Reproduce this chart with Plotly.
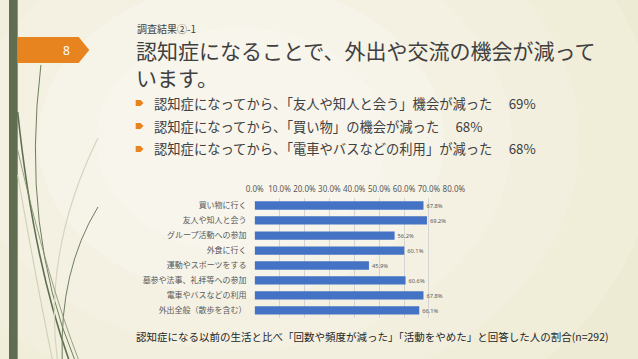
import plotly.graph_objects as go

W, H = 638, 359

categories = ["買い物に行く", "友人や知人と会う", "グループ活動への参加", "外食に行く",
              "運動やスポーツをする", "墓参や法事、礼拝等への参加", "電車やバスなどの利用",
              "外出全般（散歩を含む）"]
values = [67.8, 69.2, 56.2, 60.1, 45.9, 60.6, 67.8, 66.1]
x_ticks = [0, 10, 20, 30, 40, 50, 60, 70, 80]
x_tick_labels = ["0.0%", "10.0%", "20.0%", "30.0%", "40.0%", "50.0%", "60.0%", "70.0%", "80.0%"]

section = "調査結果②-1"
title_lines = ["認知症になることで、外出や交流の機会が減って", "います。"]
bullets = ["認知症になってから、「友人や知人と会う」機会が減った",
           "認知症になってから、「買い物」の機会が減った",
           "認知症になってから、「電車やバスなどの利用」が減った"]
bullet_pcts = ["69%", "68%", "68%"]
caption = "認知症になる以前の生活と比べ「回数や頻度が減った」「活動をやめた」と回答した人の割合(n=292)"
page_no = "8"

JP = "Noto Sans CJK JP"


def px(x):
    return x / W


def py(y):
    return 1 - y / H


def path(cmds):
    out = []
    for c in cmds:
        if isinstance(c, str):
            out.append(c)
        else:
            out.append(f"{px(c[0]):.4f},{py(c[1]):.4f}")
    return " ".join(out)


fig = go.Figure()
fig.add_trace(go.Bar(
    x=values, y=categories, orientation="h",
    marker=dict(color="#4472C4", line=dict(width=0)),
    text=values, texttemplate="%{x:.1f}%", textposition="outside",
    textfont=dict(family="Noto Sans", size=9, color="#595959"),
    cliponaxis=False, hoverinfo="skip",
))

shapes = []
# background radial glow
for r, op in [(520, 0.10), (430, 0.12), (350, 0.14), (280, 0.16), (210, 0.18), (150, 0.2)]:
    cx, cy = 240, 140
    shapes.append(dict(type="circle", xref="paper", yref="paper",
                       x0=px(cx - r), x1=px(cx + r), y0=py(cy + r * 0.75), y1=py(cy - r * 0.75),
                       fillcolor="white", opacity=op, line=dict(width=0), layer="below"))
# left green strip
shapes.append(dict(type="rect", xref="paper", yref="paper", x0=0, x1=px(9), y0=0, y1=1,
                   fillcolor="#5f6e50", line=dict(width=0), layer="below"))
# decorative curves
curves = [
    (["M", (33, 65), "Q", (12, 230), (68, 360)], "#6d7f5c", 1.0),
    (["M", (9, 112), "Q", (25, 260), (62, 360)], "#5f7050", 1.6),
    (["M", (92, 138), "Q", (35, 250), (50, 360)], "#d3d6bd", 1.2),
    (["M", (92, 207), "Q", (52, 270), (55, 360)], "#6d7f5c", 1.0),
    (["M", (9, 175), "Q", (30, 290), (45, 360)], "#cfd3b8", 1.2),
    (["M", (9, 150), "Q", (40, 280), (72, 360)], "#7d8d6a", 0.8),
]
for pts, col, w in curves:
    shapes.append(dict(type="path", xref="paper", yref="paper", path=path(pts),
                       line=dict(color=col, width=w), layer="below"))
# orange tag
shapes.append(dict(type="path", xref="paper", yref="paper",
                   path=path(["M", (9, 37), "L", (72, 37), "L", (83, 50), "L", (72, 63), "L", (9, 63), "Z"]),
                   fillcolor="#e8841f", line=dict(width=0), layer="below"))
# bullet arrows
bullet_y = [103, 126, 149]
for by in bullet_y:
    shapes.append(dict(type="path", xref="paper", yref="paper",
                       path=path(["M", (131, by - 3), "L", (136, by - 3), "L", (139, by), "L", (136, by + 3),
                                  "L", (131, by + 3), "Z"]),
                       fillcolor="#e8841f", line=dict(width=0)))

ann = []
ann.append(dict(text=page_no, x=px(59), y=py(50), xref="paper", yref="paper", showarrow=False,
                xanchor="center", yanchor="middle", font=dict(family="Noto Sans", size=12, color="white")))
ann.append(dict(text=section, x=px(130), y=py(28), xref="paper", yref="paper", showarrow=False,
                xanchor="left", yanchor="middle", font=dict(family=JP, size=10, color="#404040")))
ann.append(dict(text="<br>".join(title_lines), x=px(129), y=py(64), xref="paper", yref="paper",
                showarrow=False, align="left", xanchor="left", yanchor="middle",
                font=dict(family=JP, size=21, color="#404040")))
for t, p, yy in zip(bullets, bullet_pcts, bullet_y):
    ann.append(dict(text=t + "\u3000 " + p, x=px(148), y=py(yy), xref="paper", yref="paper",
                    showarrow=False, xanchor="left", yanchor="middle",
                    font=dict(family=JP, size=13.3, color="#404040")))
ann.append(dict(text=caption, x=px(129), y=py(336), xref="paper", yref="paper", showarrow=False,
                xanchor="left", yanchor="middle", font=dict(family=JP, size=10.5, color="#262626")))

fig.update_layout(
    width=W, height=H,
    margin=dict(l=0, r=0, t=0, b=0),
    paper_bgcolor="#ece9d0",
    plot_bgcolor="rgba(0,0,0,0)",
    showlegend=False,
    bargap=0.45,
    shapes=shapes,
    annotations=ann,
    xaxis=dict(domain=[px(254), px(460)], range=[0, 80], side="top", tickvals=x_ticks,
               ticktext=x_tick_labels, showgrid=True, gridcolor="#d4d4d4", gridwidth=1,
               zeroline=False, showline=False, ticks="", ticklabelstandoff=3,
               tickfont=dict(family="Noto Sans", size=8, color="#595959"), fixedrange=True),
    yaxis=dict(domain=[py(318), py(198)], autorange="reversed", showgrid=False, zeroline=False,
               ticks="", ticklabelstandoff=7, tickfont=dict(family=JP, size=8, color="#595959"),
               fixedrange=True),
)

fig.write_html("out.html", config={"displayModeBar": False},
               post_script="document.body.style.margin='0px';document.body.style.padding='0px';")
